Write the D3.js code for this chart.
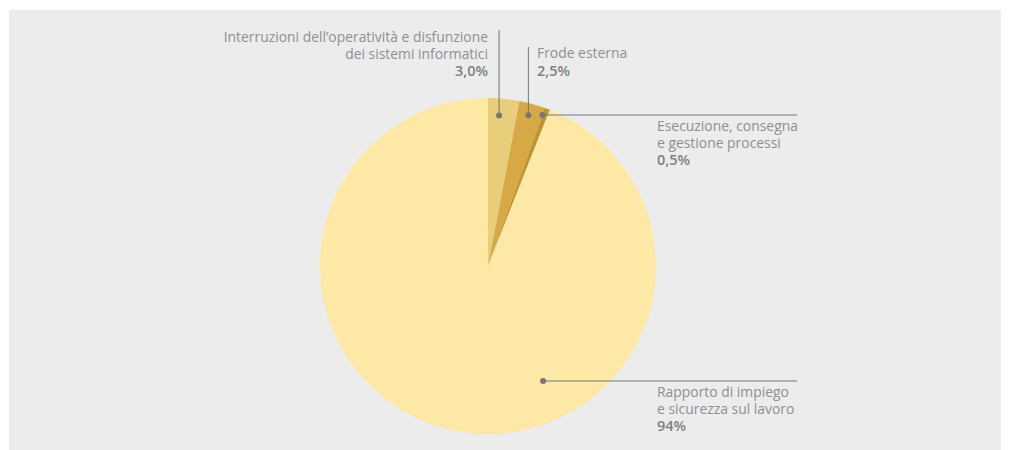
<!DOCTYPE html>
<html>
<head>
<meta charset="utf-8">
<script src="https://cdn.jsdelivr.net/npm/d3@7"></script>
<style>
  body { margin: 0; background: #fff; }
  svg { display: block; }
  .lbl { font-family: "Open Sans", sans-serif; font-size: 13.9px; fill: #8f8f8f; }
  .val { font-weight: 600; font-size: 14.5px; fill: #7f7f7f; }
</style>
</head>
<body>
<svg id="chart"></svg>
<script>
// data
var categories = [
  ['Interruzioni dell\u2019operatività e disfunzione', 'dei sistemi informatici'],
  ['Frode esterna'],
  ['Esecuzione, consegna', 'e gestione processi'],
  ['Rapporto di impiego', 'e sicurezza sul lavoro']
]
var values = [3.0, 2.5, 0.5, 94]
var valueLabels = ['3,0%', '2,5%', '0,5%', '94%']
var colors = ['#e8cd7a', '#d6a944', '#c0942e', '#fde9a5']

var width = 1009, height = 450
var cx = 488, cy = 266, radius = 168

// leader layout: dot position (polar around center), line end, text anchor
var leaders = [
  { ang: 4.2, r: 151, end: [null, 30], tx: 488, ty: 42, anchor: 'end' },
  { ang: 15.0, r: 156, end: [null, 47], tx: 537, ty: 58, anchor: 'start' },
  { ang: 19.8, r: 160.5, end: [797, null], tx: 657, ty: 131, anchor: 'start' },
  { ang: 154.4, r: 127.5, end: [797, null], tx: 657, ty: 397, anchor: 'start' }
]

var svg = d3.select('#chart')
  .attr('width', width)
  .attr('height', height)

svg.append('rect')
  .attr('x', 9).attr('y', 10)
  .attr('width', 992).attr('height', 440)
  .attr('fill', '#ececec')

var pie = d3.pie().sort(null).value(d => d)
var arc = d3.arc().innerRadius(0).outerRadius(radius)

var g = svg.append('g')
  .attr('transform', `translate(${cx},${cy})`)

g.selectAll('path')
  .data(pie(values))
  .enter()
  .append('path')
  .attr('d', arc)
  .attr('fill', (d, i) => colors[i])

leaders.forEach(function(l, i) {
  var a = l.ang * Math.PI / 180
  var dx = cx + l.r * Math.sin(a)
  var dy = cy - l.r * Math.cos(a)
  var ex = l.end[0] == null ? dx : l.end[0]
  var ey = l.end[1] == null ? dy : l.end[1]

  svg.append('line')
    .attr('x1', dx).attr('y1', dy)
    .attr('x2', ex).attr('y2', ey)
    .attr('stroke', '#777')
    .attr('stroke-width', 1)

  svg.append('circle')
    .attr('cx', dx).attr('cy', dy)
    .attr('r', 3)
    .attr('fill', '#777')

  var t = svg.append('text')
    .attr('class', 'lbl')
    .attr('text-anchor', l.anchor)
  var lines = categories[i]
  lines.forEach(function(s, k) {
    t.append('tspan')
      .attr('x', l.tx)
      .attr('y', l.ty + k * 16.5)
      .text(s)
  })
  t.append('tspan')
    .attr('class', 'val')
    .attr('x', l.tx)
    .attr('y', l.ty + lines.length * 16.5 + 1)
    .text(valueLabels[i])
})
</script>
</body>
</html>
